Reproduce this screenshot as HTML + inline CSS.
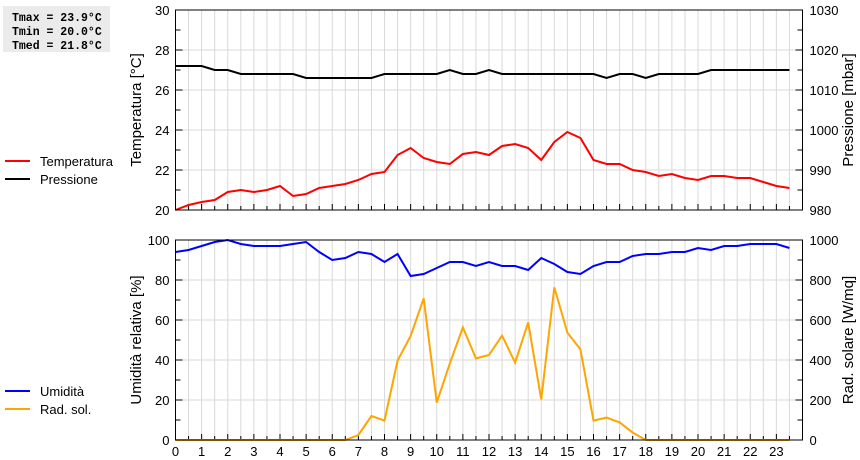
<!DOCTYPE html>
<html><head><meta charset="utf-8"><style>
body{margin:0;background:#fff;width:860px;height:460px;overflow:hidden}
svg{display:block;font-family:"Liberation Sans",sans-serif}
</style></head><body>
<svg id="c" width="860" height="460" viewBox="0 0 860 460">
<rect x="3" y="6" width="107" height="46" fill="#ebebeb"/>
<g font-family="Liberation Mono,monospace" font-weight="bold" font-size="11.5" fill="#000">
<text x="12" y="21">Tmax = 23.9°C</text>
<text x="12" y="35">Tmin = 20.0°C</text>
<text x="12" y="49">Tmed = 21.8°C</text>
</g>
<g font-size="13">
<line x1="5" y1="161" x2="30" y2="161" stroke="#f00" stroke-width="2"/>
<text x="40" y="166">Temperatura</text>
<line x1="5" y1="179" x2="30" y2="179" stroke="#000" stroke-width="2"/>
<text x="40" y="184">Pressione</text>
</g>
<g font-size="13">
<line x1="5" y1="391" x2="30" y2="391" stroke="#00f" stroke-width="2"/>
<text x="40" y="396">Umidità</text>
<line x1="5" y1="409" x2="30" y2="409" stroke="#ffa500" stroke-width="2"/>
<text x="40" y="414">Rad. sol.</text>
</g>
<g id="g"></g>
</svg>
<script>
const hours = Array.from({length:48},(_,i)=>i/2);
const temperature=[20.0,20.25,20.4,20.5,20.9,21.0,20.9,21.0,21.2,20.7,20.8,21.1,21.2,21.3,21.5,21.8,21.9,22.75,23.1,22.6,22.4,22.3,22.8,22.9,22.75,23.2,23.3,23.1,22.5,23.4,23.9,23.6,22.5,22.3,22.3,22.0,21.9,21.7,21.8,21.6,21.5,21.7,21.7,21.6,21.6,21.4,21.2,21.1];
const pressure=[1016,1016,1016,1015,1015,1014,1014,1014,1014,1014,1013,1013,1013,1013,1013,1013,1014,1014,1014,1014,1014,1015,1014,1014,1015,1014,1014,1014,1014,1014,1014,1014,1014,1013,1014,1014,1013,1014,1014,1014,1014,1015,1015,1015,1015,1015,1015,1015];
const humidity=[94,95,97,99,100,98,97,97,97,98,99,94,90,91,94,93,89,93,82,83,86,89,89,87,89,87,87,85,91,88,84,83,87,89,89,92,93,93,94,94,96,95,97,97,98,98,98,96];
const radiation=[0,0,0,0,0,0,0,0,0,0,0,0,0,0,25,120,97,397,520,708,187,383,563,408,425,522,387,588,203,763,537,453,97,112,88,37,0,0,0,0,0,0,0,0,0,0,0,0];
const tempTicks=[20,22,24,26,28,30];
const presTicks=[980,990,1000,1010,1020,1030];
const humTicks=[0,20,40,60,80,100];
const radTicks=[0,200,400,600,800,1000];
const hourTicks=Array.from({length:24},(_,i)=>i);

const NS="http://www.w3.org/2000/svg";
const G=document.getElementById('g');
const X0=175.5,X1=802.5;
const x=h=>X0+(X1-X0)*h/24;
function mk(tag,attrs,parent){const e=document.createElementNS(NS,tag);for(const k in attrs)e.setAttribute(k,attrs[k]);(parent||G).appendChild(e);return e;}
function panel(top,bot,lt,rt,ly,ry,lData,rData,lCol,rCol,lTitle,rTitle,pname,showX){
  const yl=v=>bot-(bot-top)*(v-lt[0])/(lt[lt.length-1]-lt[0]);
  const yr=v=>bot-(bot-top)*(v-rt[0])/(rt[rt.length-1]-rt[0]);
  const g=mk('g',{});
  
  
  for(let i=1;i<48;i++){const l=mk('line',{x1:x(i/2),x2:x(i/2),y1:top,y2:bot,stroke:'#d9d9d9','stroke-width':1},g);}
  lt.forEach((v,i)=>{if(i>0&&i<lt.length-1){const l=mk('line',{x1:X0,x2:X1,y1:yl(v),y2:yl(v),stroke:'#d9d9d9'},g);}});
  // minor ticks
  for(let i=0;i<lt.length-1;i++){const m=(yl(lt[i])+yl(lt[i+1]))/2;mk('line',{x1:X0,x2:X0+5,y1:m,y2:m,stroke:'#000'},g);mk('line',{x1:X1,x2:X1-5,y1:m,y2:m,stroke:'#000'},g);}
  lt.forEach(v=>{mk('line',{x1:X0,x2:X0+7,y1:yl(v),y2:yl(v),stroke:'#000'},g);const t=mk('text',{x:X0-6,y:yl(v)+5,'text-anchor':'end','font-size':13},g);t.textContent=v;});
  rt.forEach(v=>{mk('line',{x1:X1,x2:X1-7,y1:yr(v),y2:yr(v),stroke:'#000'},g);const t=mk('text',{x:X1+7,y:yr(v)+5,'font-size':13},g);t.textContent=v;});
  for(let i=0;i<48;i++){mk('line',{x1:x(i/2),x2:x(i/2),y1:bot,y2:bot-(i%2?4:6),stroke:'#000'},g);}
  if(showX) hourTicks.forEach(h=>{const t=mk('text',{x:x(h),y:bot+16,'text-anchor':'middle','font-size':13},g);t.textContent=h;});
  const pr=mk('polyline',{points:rData.map((v,i)=>x(hours[i])+','+yr(v)).join(' '),fill:'none',stroke:rCol,'stroke-width':2},g);
  
  const pl=mk('polyline',{points:lData.map((v,i)=>x(hours[i])+','+yl(v)).join(' '),fill:'none',stroke:lCol,'stroke-width':2},g);
  
  const b=mk('rect',{x:X0,y:top,width:X1-X0,height:bot-top,fill:'none',stroke:'#000'},g);
  
  const cy=(top+bot)/2;
  const a=mk('text',{x:0,y:0,transform:`translate(141 ${cy}) rotate(-90)`,'text-anchor':'middle','font-size':15},g);a.textContent=lTitle;
  const c=mk('text',{x:0,y:0,transform:`translate(853 ${cy}) rotate(-90)`,'text-anchor':'middle','font-size':15},g);c.textContent=rTitle;
}
panel(10,210,tempTicks,presTicks,0,0,temperature,pressure,'#f00','#000','Temperatura [°C]','Pressione [mbar]','temp-pressure-panel',false);
panel(240,440,humTicks,radTicks,0,0,humidity,radiation,'#00f','#ffa500','Umidità relativa [%]','Rad. solare [W/mq]','humidity-radiation-panel',true);
</script>
</body></html>
